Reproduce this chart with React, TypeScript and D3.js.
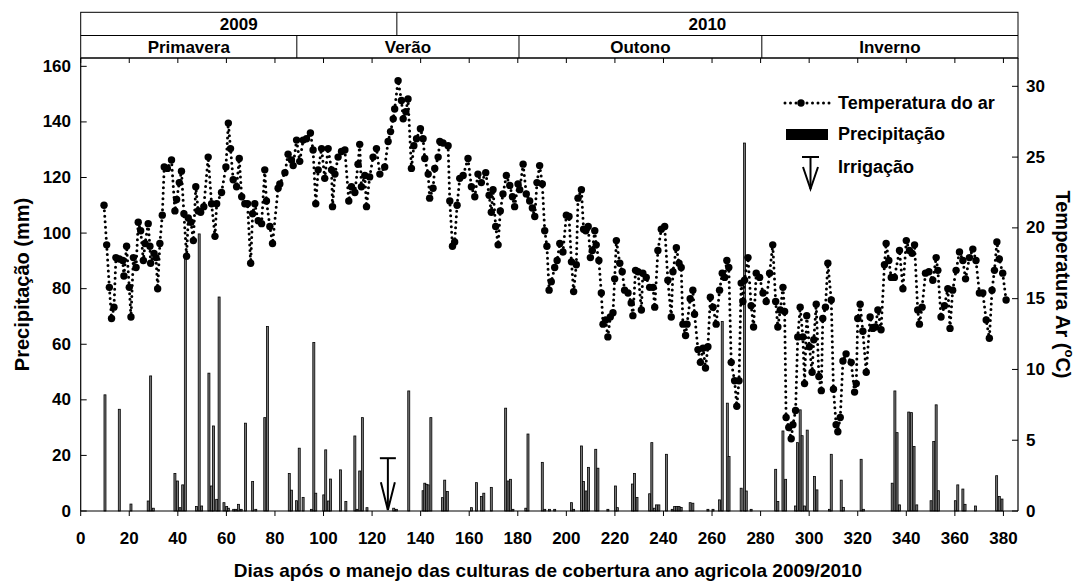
import React from 'react';
import * as d3 from 'd3';

// Air temperature (°C): day after management, value
const tempDays = [9.6,10.7,11.8,12.7,13.7,14.5,15.9,17.3,17.8,18.9,20.0,20.7,21.7,22.8,23.7,24.7,25.8,26.5,27.8,28.5,28.8,30.2,31.0,31.7,32.6,33.6,34.4,35.7,37.4,38.8,39.5,40.6,41.5,42.5,43.6,44.3,45.4,46.4,47.4,48.4,49.4,50.7,52.5,53.9,55.3,56.0,58.0,59.8,60.8,61.7,62.8,64.2,65.3,66.3,67.6,68.7,70.0,70.8,71.7,73.1,74.5,75.8,76.5,77.9,79.0,81.3,82.0,84.1,85.4,86.8,87.5,88.9,90.2,91.6,93.0,94.6,95.7,96.8,97.8,99.2,100.5,101.9,103.3,103.7,104.7,106.0,107.4,108.8,110.4,111.5,112.9,114.2,114.9,115.6,117.0,117.7,119.0,120.4,121.8,123.2,125.2,126.6,127.6,128.7,129.3,130.7,132.1,132.8,133.9,134.8,136.2,137.2,138.3,139.9,141.0,141.7,143.1,143.7,145.1,145.8,147.2,147.9,149.2,151.3,152.0,153.1,154.0,155.0,156.1,157.5,159.5,160.9,162.3,163.6,165.0,166.8,168.2,169.1,169.8,170.9,171.9,172.8,173.9,175.3,176.7,177.8,178.7,180.1,180.8,182.2,183.5,184.9,186.0,187.0,187.9,189.0,190.1,191.1,192.0,192.9,193.8,195.2,196.2,197.3,198.6,200.0,201.1,202.1,203.0,204.1,204.8,206.2,207.1,208.0,209.0,209.9,210.7,211.7,212.3,213.4,214.4,215.1,216.2,217.1,218.1,219.2,219.9,220.6,222.0,223.0,224.0,225.4,226.7,227.4,228.5,229.5,230.9,231.5,232.9,234.3,235.7,236.4,237.7,239.1,240.5,241.8,243.2,243.9,245.3,246.4,247.3,248.0,249.1,249.7,251.0,252.1,252.8,254.2,255.2,256.3,257.3,258.3,259.3,260.4,261.7,263.1,264.2,265.2,266.1,266.9,267.9,269.3,270.2,271.1,272.0,272.7,273.4,274.8,276.1,277.1,278.2,279.6,281.0,282.3,283.7,285.0,286.2,287.1,288.1,289.2,289.9,290.5,291.6,292.6,293.3,294.4,295.3,296.3,297.4,298.1,299.0,300.1,301.2,301.9,302.9,304.0,305.0,305.6,306.7,307.7,309.1,310.0,311.1,311.8,312.8,313.9,315.2,317.3,318.7,319.4,320.0,321.0,322.1,323.5,325.1,326.2,327.3,328.3,329.6,331.0,331.7,332.8,333.8,335.1,337.2,338.6,340.0,341.3,342.4,343.4,344.7,345.4,346.5,347.9,349.3,350.9,352.3,353.0,354.3,355.7,357.1,358.0,359.1,360.5,361.9,363.3,364.4,366.0,367.4,368.7,370.1,371.5,372.9,374.2,375.3,376.3,377.3,378.3,379.7,381.1];
const tempValues = [21.6,18.8,15.8,13.6,14.4,17.9,17.8,17.7,16.6,18.7,15.8,13.7,17.9,17.2,20.4,19.8,17.7,18.9,20.3,18.7,17.5,18.2,17.9,15.7,18.9,20.9,24.3,24.2,24.8,21.2,22.0,23.2,24.0,21.0,18.0,20.7,20.4,19.1,22.9,21.2,21.1,21.5,25.0,21.7,19.4,21.7,22.5,24.3,27.4,25.6,23.4,22.9,24.9,22.2,21.7,21.7,17.5,21.0,21.7,20.5,20.3,24.1,21.9,20.1,18.9,22.8,23.1,23.9,25.2,24.8,24.4,26.2,24.7,26.2,26.3,26.7,25.5,21.7,24.1,25.6,23.5,25.6,24.1,21.5,23.8,25.0,25.4,25.5,21.9,22.9,22.5,24.5,25.9,22.9,23.7,21.5,23.6,25.0,25.6,23.8,24.3,26.1,26.8,27.7,28.4,30.4,29.0,27.7,28.2,29.1,24.2,25.8,26.3,27.0,26.3,24.9,23.8,22.1,22.8,24.2,25.0,26.1,26.0,25.8,21.9,18.7,19.0,21.6,23.5,23.7,24.9,22.9,22.2,23.8,23.2,23.9,22.3,21.1,22.7,20.1,18.8,21.2,22.4,23.7,23.0,22.2,21.5,23.1,22.7,24.5,22.4,21.9,21.4,20.8,23.2,24.4,23.1,19.8,18.7,15.6,16.2,17.2,17.7,18.9,18.3,20.9,20.8,17.6,15.5,17.4,22.1,22.7,19.9,19.8,20.1,17.9,18.4,19.8,18.8,17.7,15.4,13.2,13.5,12.3,13.7,14.0,16.4,19.1,17.5,16.9,15.6,15.4,14.7,13.8,17.0,16.9,14.2,16.8,16.5,15.8,15.8,14.4,18.4,19.9,20.1,16.3,13.7,16.9,18.6,17.5,17.2,13.2,12.4,13.2,15.0,15.6,13.9,11.4,10.5,11.5,10.1,11.6,15.1,14.4,13.2,15.6,16.8,16.5,17.7,17.2,10.5,9.2,7.4,9.2,16.1,14.8,16.3,17.9,14.5,13.0,16.8,16.5,15.4,14.8,16.8,18.8,14.8,13.0,14.2,15.8,14.1,6.6,5.9,5.1,6.1,7.1,12.3,14.4,12.3,9.0,13.8,11.6,9.8,12.1,14.6,9.5,8.5,13.6,14.4,17.5,14.9,8.6,6.1,5.6,6.6,10.6,11.1,10.5,8.4,9.0,13.6,14.6,12.7,9.8,13.7,12.9,13.0,14.2,12.8,17.4,18.9,17.7,16.5,16.5,18.4,15.7,19.1,18.4,18.2,18.8,14.2,13.2,14.4,16.8,16.9,16.3,17.9,17.0,13.7,14.5,15.7,12.9,15.6,17.0,18.3,17.7,16.4,17.9,18.5,17.7,15.4,15.4,13.5,12.2,15.6,17.0,19.0,17.8,16.8,14.9];

// Rainfall (mm)
const rainDays = [10,15.9,20.7,27.8,28.8,29.9,38.8,39.9,40.9,42,43.1,47.7,48.8,49.8,52.8,53.9,54.7,56,57,59,60.1,60.8,63,63.9,65,66.1,67.9,70.8,72.1,75.8,76.9,85.9,86.8,88.9,90,91.6,95,96,96.8,100.1,100.9,102,102.9,107,109.2,112.9,113.8,114.9,116,117.9,128.9,130,135.1,141,141.7,142.4,143.1,144.2,149,149.9,151,160.9,163,165,166,169.1,175,176,177,178,183.3,184.2,190.1,191.1,193.1,195.2,202.1,203,206.2,207.1,208.1,209.1,212.1,213,217.1,220.2,221,227.2,228.1,229.1,234.3,235.2,236.3,237.1,238.1,241.2,243.6,244.6,245.5,246.4,247.3,251,252.1,258.3,260.4,263.1,264.2,266.3,267,272,273.4,274.1,276.1,286.2,287.1,289.2,290.3,294.4,295.2,296.3,297.1,298.1,299.2,302.2,303.2,308.4,309.1,313.2,314.1,321.4,322.4,334.2,335.3,336.2,337.2,341,342.1,343.2,344.3,350.2,351.3,352.3,353.2,360.2,361.2,363.3,364.2,368.5,377.2,378.3,379.4];
const rainValues = [41.8,36.6,2.5,3.6,48.6,1,13.5,10.8,1.2,9.4,91.6,1.6,99.7,1.8,49.6,9,30.6,4.2,77,3,1.6,1,0.6,0.6,2.4,0.6,31.6,10.6,0.6,33.6,66.4,13.5,7.5,3.7,22.6,4.9,0.6,60.6,6.4,5.8,22,3.6,11.5,14.8,3.4,27,0.6,14.4,33.6,1.2,1,0.6,43.2,7.3,10,9.6,9.4,33.6,4.8,11.1,7,1.2,10.2,5.2,6.4,8.5,37,10.8,11.4,0.6,1,27.7,17.5,0.6,0.6,0.6,3,0.6,23.4,10.6,7.2,15.7,22.2,15.4,0.6,9,1.2,9.7,13.5,4.9,6.2,24.6,1,2.2,2.2,20.4,0.6,1.6,1.6,1.6,1.3,3,2.8,0.6,0.6,4,68.2,38.8,19.6,8.2,132.4,7.2,0.6,15,3.4,28.8,11.4,1.8,24.6,36.4,27.1,1.8,29.1,12.4,7.6,0.6,20.4,11.1,1.3,18.6,0.6,10,43.2,28.2,2.2,35.6,35.4,23.2,2.2,3.7,25,38.2,7.3,3.7,9.4,7.9,2.4,1.8,12.7,5.2,4.3];

// Irrigation (mm)
const irrigationDays = [126.5];
const irrigationValues = [19];

// Axis ticks
const xTicks = [0,20,40,60,80,100,120,140,160,180,200,220,240,260,280,300,320,340,360,380];
const leftTicks = [0,20,40,60,80,100,120,140,160];
const rightTicks = [0,5,10,15,20,25,30];

// Header bands (in days)
const years = ['2009', '2010'];
const yearBounds = [0, 130.2, 386];
const seasons = ['Primavera', 'Verão', 'Outono', 'Inverno'];
const seasonBounds = [0, 89, 180.5, 280.5, 386];

const FONT = '"Liberation Sans", Arial, sans-serif';

export default function App() {
  React.useEffect(() => {
    document.body.style.margin = '0';
  }, []);

  const W = 1082, H = 582;
  const L = 80.7, R = 1018, T = 58, B = 511;
  const headTop = 12.3, headMid = 35.5;

  const x = d3.scaleLinear().domain([0, 386]).range([L, R]);
  const yP = d3.scaleLinear().domain([0, 163]).range([B, T]);
  const yT = d3.scaleLinear().domain([0, 32]).range([B, T]);

  const tempPts = tempDays.map((d, i) => [d, tempValues[i]] as [number, number]);
  const line = d3.line<[number, number]>().x(d => x(d[0])).y(d => yT(d[1]));

  const barW = 2;

  return (
    <svg width={W} height={H} style={{ position: 'absolute', left: 0, top: 0, background: '#fff' }}
      fontFamily={FONT} fontWeight="bold">
      <rect x={0} y={0} width={W} height={H} fill="#fff" />

      {/* header */}
      <g stroke="#000" strokeWidth={1} fill="none">
        <rect x={L} y={headTop} width={R - L} height={T - headTop} />
        <line x1={L} x2={R} y1={headMid} y2={headMid} />
        {yearBounds.slice(1, -1).map((b, i) => (
          <line key={'yb' + i} x1={x(b)} x2={x(b)} y1={headTop} y2={headMid} />
        ))}
        {seasonBounds.slice(1, -1).map((b, i) => (
          <line key={'sb' + i} x1={x(b)} x2={x(b)} y1={headMid} y2={T} />
        ))}
      </g>
      {years.map((s, i) => (
        <text key={s} x={(x(yearBounds[i]) + x(yearBounds[i + 1])) / 2} y={(headTop + headMid) / 2 + 0.5}
          textAnchor="middle" dominantBaseline="central" fontSize={17}>{s}</text>
      ))}
      {seasons.map((s, i) => (
        <text key={s} x={(x(seasonBounds[i]) + x(seasonBounds[i + 1])) / 2} y={(headMid + T) / 2 + 1}
          textAnchor="middle" dominantBaseline="central" fontSize={17}>{s}</text>
      ))}

      {/* precipitation bars */}
      <g>
        {rainDays.map((d, i) => (
          <rect key={'r' + i} x={x(d) - barW / 2} y={yP(rainValues[i])} width={barW}
            height={B - yP(rainValues[i])} fill="#777" stroke="#000" strokeWidth={0.8} />
        ))}
      </g>

      {/* irrigation arrows */}
      {irrigationDays.map((d, i) => {
        const cx = x(d), top = yP(irrigationValues[i]);
        return (
          <g key={'irr' + i} stroke="#000" strokeWidth={2} fill="none">
            <line x1={cx - 8} x2={cx + 8} y1={top} y2={top} />
            <line x1={cx} x2={cx} y1={top} y2={B - 1} />
            <polyline points={`${cx - 7},${top + 24} ${cx},${B - 1} ${cx + 7},${top + 24}`} />
          </g>
        );
      })}

      {/* temperature */}
      <path d={line(tempPts) || ''} fill="none" stroke="#000" strokeWidth={3}
        strokeDasharray="0 5.5" strokeLinecap="round" />
      {tempPts.map((p, i) => (
        <circle key={'t' + i} cx={x(p[0])} cy={yT(p[1])} r={3.7} fill="#000" />
      ))}

      {/* frame */}
      <g stroke="#000" strokeWidth={1.2} fill="none">
        <line x1={L} x2={L} y1={T} y2={B} />
        <line x1={R} x2={R} y1={T} y2={B} />
        <line x1={L} x2={R} y1={B} y2={B} />
        <line x1={L} x2={R} y1={T} y2={T} />
      </g>

      {/* ticks */}
      <g stroke="#000" strokeWidth={1}>
        {xTicks.map(t => (
          <g key={'xt' + t}>
            <line x1={x(t)} x2={x(t)} y1={B} y2={B + 5} />
            <line x1={x(t)} x2={x(t)} y1={T} y2={T + 5} />
          </g>
        ))}
        {leftTicks.map(t => (
          <line key={'lt' + t} x1={L} x2={L + 6} y1={yP(t)} y2={yP(t)} />
        ))}
        {rightTicks.map(t => (
          <line key={'rt' + t} x1={R - 6} x2={R} y1={yT(t)} y2={yT(t)} />
        ))}
      </g>
      {xTicks.map(t => (
        <text key={'xl' + t} x={x(t)} y={538} textAnchor="middle" dominantBaseline="central" fontSize={17}>{t}</text>
      ))}
      {leftTicks.map(t => (
        <text key={'ll' + t} x={71} y={yP(t)} textAnchor="end" dominantBaseline="central" fontSize={17}>{t}</text>
      ))}
      {rightTicks.map(t => (
        <text key={'rl' + t} x={1026} y={yT(t)} textAnchor="start" dominantBaseline="central" fontSize={17}>{t}</text>
      ))}

      {/* axis titles */}
      <text x={548} y={570} textAnchor="middle" dominantBaseline="central" fontSize={19}>
        Dias após o manejo das culturas de cobertura ano agricola 2009/2010
      </text>
      <text transform={`translate(22,${(T + B) / 2}) rotate(-90)`} textAnchor="middle" dominantBaseline="central" fontSize={20}>
        Precipitação (mm)
      </text>
      <text transform={`translate(1063,${(T + B) / 2}) rotate(90)`} textAnchor="middle" dominantBaseline="central" fontSize={20}>
        Temperatura Ar (<tspan dy={-7} fontSize={13}>o</tspan><tspan dy={7}>C)</tspan>
      </text>

      {/* legend */}
      <g>
        <line x1={785} x2={830} y1={103} y2={103} stroke="#000" strokeWidth={3} strokeDasharray="0 5.5" strokeLinecap="round" />
        <circle cx={801} cy={103} r={3.7} fill="#000" />
        <text x={838} y={103} dominantBaseline="central" fontSize={18}>Temperatura do ar</text>

        <rect x={786} y={129} width={42} height={11} fill="#000" />
        <text x={838} y={134} dominantBaseline="central" fontSize={18}>Precipitação</text>

        <g stroke="#000" strokeWidth={2} fill="none">
          <line x1={802} x2={819} y1={157} y2={157} />
          <line x1={810.5} x2={810.5} y1={157} y2={189} />
          <polyline points="803,167 810.5,189 818,167" />
        </g>
        <text x={838} y={167} dominantBaseline="central" fontSize={18}>Irrigação</text>
      </g>
    </svg>
  );
}
